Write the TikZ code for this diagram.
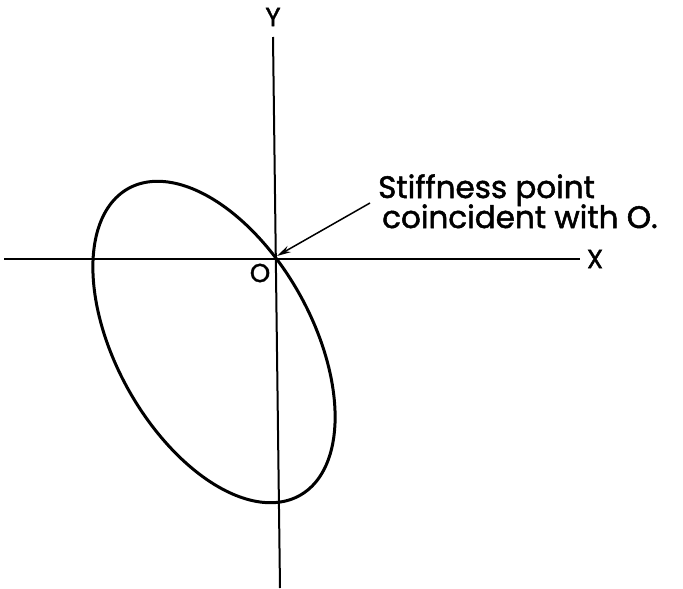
\documentclass[tikz,border=0pt]{standalone}
\usepackage{fontspec}
\setmainfont{Poppins}[FakeBold=1.6]
\usetikzlibrary{arrows.meta}
\begin{document}
\begin{tikzpicture}[x=1pt,y=-1pt,
  axis/.style={line width=2pt},
  curve/.style={line width=3pt, line join=round},
  lbl/.style={font=\fontsize{26}{28}\selectfont, inner sep=0pt},
  txt/.style={font=\fontsize{31}{33}\selectfont, inner sep=0pt, anchor=base west}]
\useasboundingbox (0,0) rectangle (683,589);
\coordinate (xs) at (4,259);
\coordinate (xe) at (580,259);
\coordinate (ys) at (273,37);
\coordinate (ye) at (280,588);
\coordinate (O) at (277,256);
\coordinate (as) at (370,203);
\draw[axis] (xs) -- (xe);
\draw[axis] (ys) -- (ye);
\node[lbl] (X) at (595,259) {X};
\node[lbl] (Y) at (273,17) {Y};
\node[lbl] (Olbl) at (260,273) {O};
\draw[curve, domain=0:360, samples=120, smooth, variable=\t]
  plot ({214 + 175.8*cos(60.8)*cos(\t) - 98*sin(60.8)*sin(\t)},
        {342 + 175.8*sin(60.8)*cos(\t) + 98*cos(60.8)*sin(\t)}) -- cycle;
\node[txt] (t1) at (378,198) {Stiffness point};
\node[txt] (t2) at (382,228) {coincident with O.};
\draw[line width=1.5pt, -{Stealth[length=14pt,width=7pt]}] (as) -- (O);
\end{tikzpicture}
\end{document}
